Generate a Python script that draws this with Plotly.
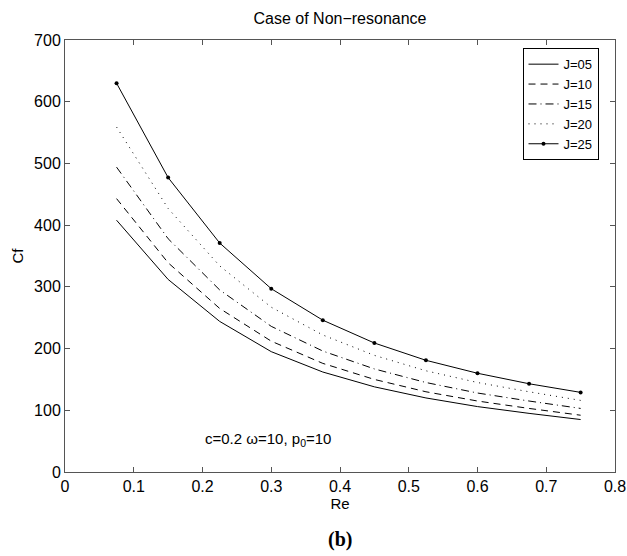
import plotly.graph_objects as go

# Reynolds-number samples
re_vals = [0.075, 0.15, 0.225, 0.3, 0.375, 0.45, 0.525, 0.6, 0.675, 0.75]

# Cf for each J
cf_j05 = [408, 312, 244, 195, 162, 138, 120, 106, 95, 85]
cf_j10 = [443, 339, 265, 212, 176, 150, 130, 115, 103, 92]
cf_j15 = [494, 378, 295, 236, 196, 167, 145, 128, 115, 103]
cf_j20 = [559, 427, 334, 267, 222, 189, 164, 145, 130, 116]
cf_j25 = [630, 477, 371, 297, 246, 209, 181, 160, 143, 129]

series_names = ["J=05", "J=10", "J=15", "J=20", "J=25"]
x_ticks = [0, 0.1, 0.2, 0.3, 0.4, 0.5, 0.6, 0.7, 0.8]
y_ticks = [0, 100, 200, 300, 400, 500, 600, 700]

FONT = "Liberation Sans, Arial, sans-serif"

fig = go.Figure()

# matlab-ish line styles: '-', '--', '-.', ':', '.-'
styles = [
    ("solid", "lines"),
    ("7px,5px", "lines"),
    ("8px,4px,1px,4px", "lines"),
    ("1px,5px", "lines"),
    ("solid", "lines+markers"),
]
for name, ys, (dash, mode) in zip(series_names, [cf_j05, cf_j10, cf_j15, cf_j20, cf_j25], styles):
    fig.add_trace(go.Scatter(
        x=re_vals, y=ys, name=name, mode=mode,
        line=dict(color="black", width=1, dash=dash),
        marker=dict(color="black", size=4),
    ))

axis_common = dict(
    showgrid=False, zeroline=False, showline=True, linecolor="#555",
    linewidth=1, mirror="ticks", ticks="inside", ticklen=5, tickcolor="#555",
    tickfont=dict(family=FONT, size=16, color="black"),
)

# only let the x axis grow the bottom margin, the "0.8" label may overhang on the right
fig.update_xaxes(range=[0, 0.8], tickvals=x_ticks,
                 ticktext=[f"{v:g}" for v in x_ticks], automargin="height",
                 title=dict(text="Re", font=dict(family=FONT, size=15, color="black"), standoff=2),
                 **axis_common)
fig.update_yaxes(range=[0, 700], tickvals=y_ticks, automargin="width",
                 title=dict(text="Cf", font=dict(family=FONT, size=15, color="black"), standoff=6),
                 **axis_common)

fig.add_annotation(x=0.2, y=52, xref="x", yref="y", xanchor="left", yanchor="middle",
                   showarrow=False,
                   text="c=0.2 \u03c9=10, p<sub>0</sub>=10",
                   font=dict(family=FONT, size=15, color="black"))
fig.add_annotation(x=0.5, y=-0.157, xref="paper", yref="paper", yanchor="middle",
                   showarrow=False, text="<b>(b)</b>",
                   font=dict(family="Liberation Serif, Times New Roman, serif", size=20, color="black"))

fig.update_layout(
    width=627, height=556,
    margin=dict(l=65, r=12, t=40, b=84),
    paper_bgcolor="white", plot_bgcolor="white",
    title=dict(text="Case of Non\u2212resonance", xref="paper", x=0.5, xanchor="center",
               y=1 - 18 / 556, yanchor="middle",
               font=dict(family=FONT, size=16, color="black")),
    legend=dict(x=0.97, y=0.981, xanchor="right", yanchor="top",
                bordercolor="black", borderwidth=1, bgcolor="white",
                font=dict(family=FONT, size=13, color="black"),
                tracegroupgap=0),
    showlegend=True,
)

# no body margin / scrollbars, so the figure keeps its full 627x556
page_fix = ("document.body.style.margin='0px';"
            "document.body.style.overflow='hidden';"
            "document.documentElement.style.overflow='hidden';")
fig.write_html("out.html", post_script=page_fix,
               config={"displayModeBar": False, "responsive": False})
